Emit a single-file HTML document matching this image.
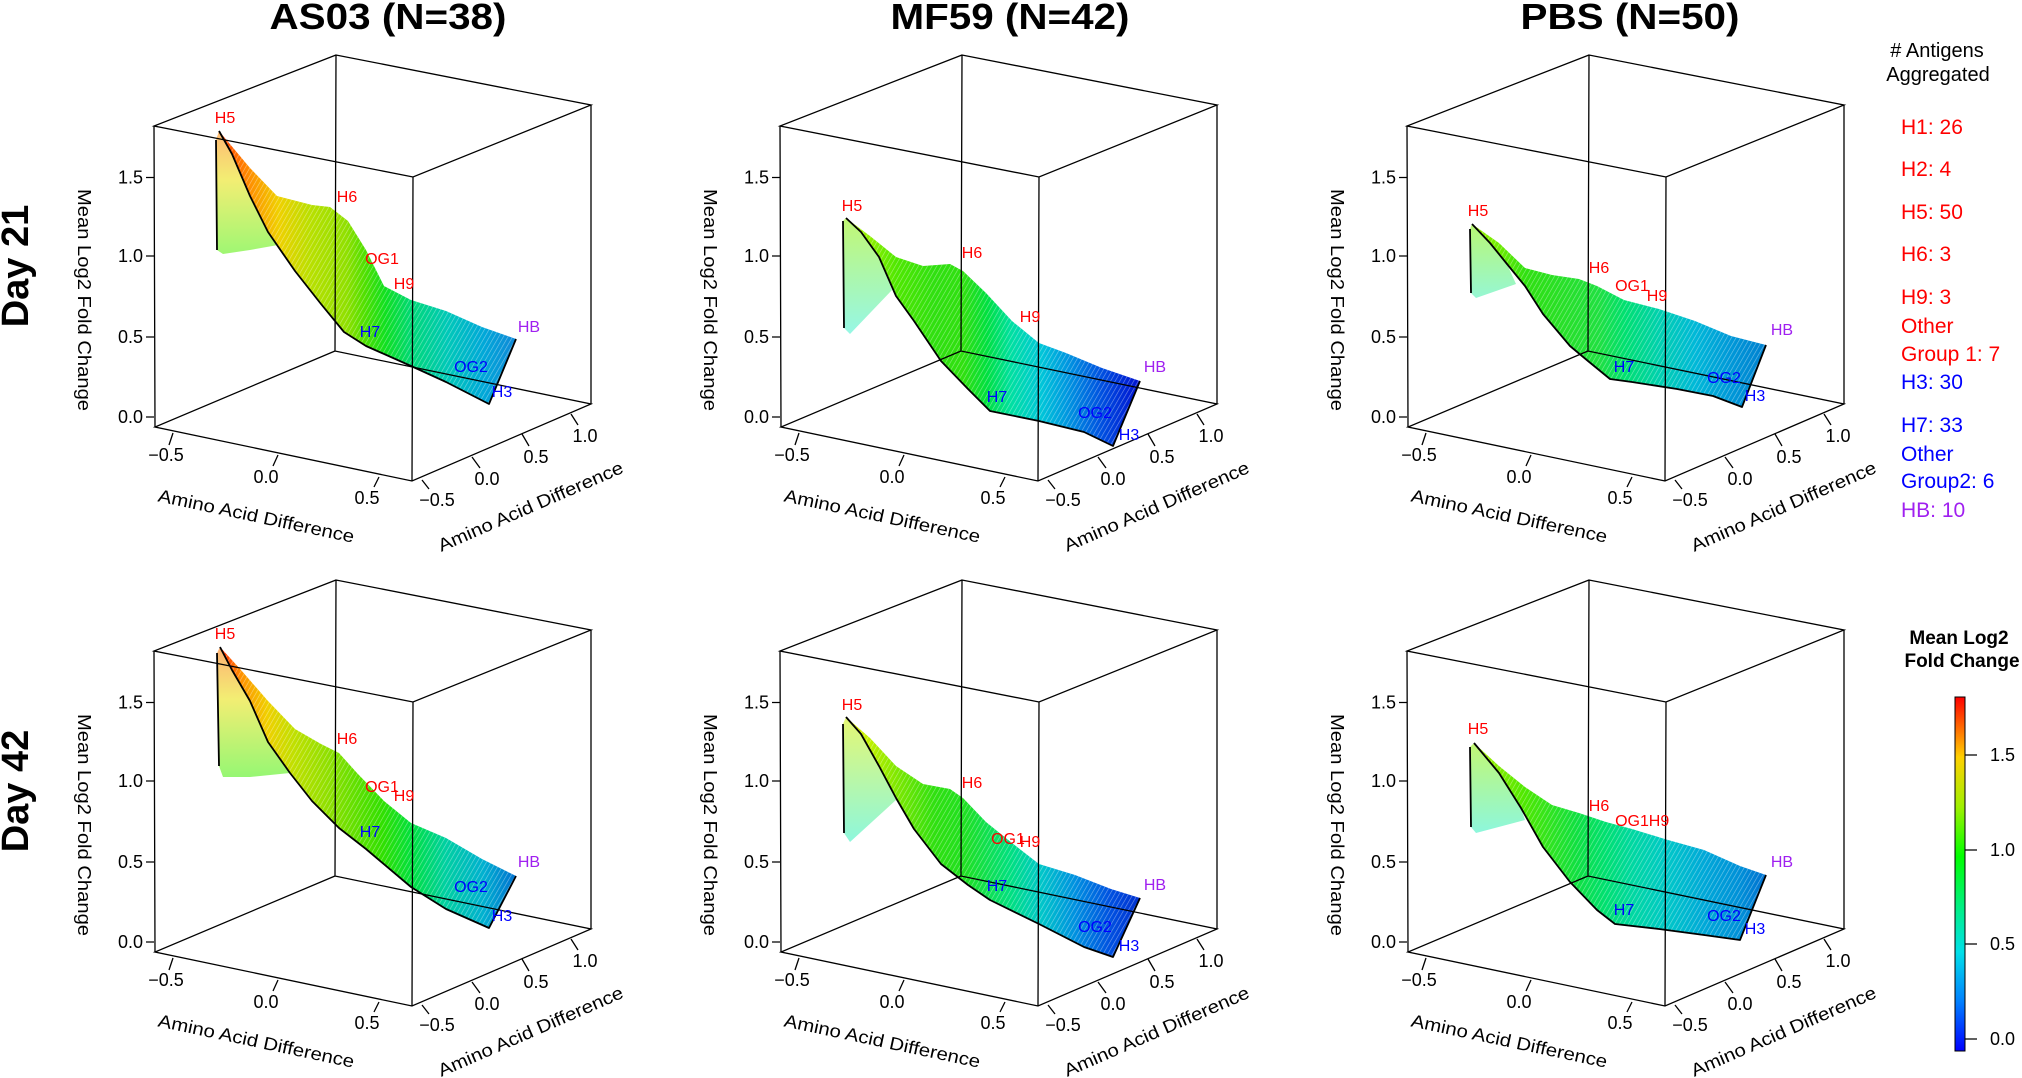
<!DOCTYPE html>
<html><head><meta charset="utf-8"><style>
html,body{margin:0;padding:0;background:#fff;}
svg{display:block;font-family:"Liberation Sans",Arial,sans-serif;}
</style></head><body>
<svg width="2022" height="1078" viewBox="0 0 2022 1078" xmlns="http://www.w3.org/2000/svg">
<defs>
<pattern id="mesh" width="4" height="4" patternUnits="userSpaceOnUse" patternTransform="rotate(30)"><line x1="0" y1="0" x2="0" y2="4" stroke="#fff" stroke-width="1.2" opacity="0.45"/></pattern>
<pattern id="hatch" width="7" height="7" patternUnits="userSpaceOnUse" patternTransform="rotate(45)"><rect width="7" height="7" fill="#fff" opacity="0.55"/><line x1="0" y1="0" x2="7" y2="0" stroke="#fff" stroke-width="0"/></pattern>
<linearGradient id="g1" gradientUnits="userSpaceOnUse" x1="219" y1="0" x2="516" y2="0">
<stop offset="0" stop-color="#ff3a00"/><stop offset=".10" stop-color="#ff8c00"/><stop offset=".2" stop-color="#f0d000"/><stop offset=".31" stop-color="#b8e000"/><stop offset=".43" stop-color="#90e000"/><stop offset=".49" stop-color="#50e000"/><stop offset=".56" stop-color="#10e020"/><stop offset=".65" stop-color="#00d878"/><stop offset=".77" stop-color="#00c8b8"/><stop offset=".89" stop-color="#00a8d8"/><stop offset="1" stop-color="#1088d8"/></linearGradient>
<linearGradient id="f1" x1="0" y1="0" x2="0" y2="1"><stop offset="0" stop-color="#ff8000"/><stop offset=".4" stop-color="#e8e000"/><stop offset="1" stop-color="#50f000"/></linearGradient>
<linearGradient id="g2" gradientUnits="userSpaceOnUse" x1="846" y1="0" x2="1140" y2="0">
<stop offset="0" stop-color="#b0f000"/><stop offset=".08" stop-color="#90f000"/><stop offset=".17" stop-color="#50e800"/><stop offset=".3" stop-color="#30e010"/><stop offset=".4" stop-color="#30e010"/><stop offset=".48" stop-color="#00e040"/><stop offset=".56" stop-color="#00e0a0"/><stop offset=".66" stop-color="#00c8d8"/><stop offset=".75" stop-color="#0098e0"/><stop offset=".87" stop-color="#0050e0"/><stop offset="1" stop-color="#0010d0"/></linearGradient>
<linearGradient id="f2" x1="0" y1="0" x2="0" y2="1"><stop offset="0" stop-color="#90f000"/><stop offset="1" stop-color="#40f0d0"/></linearGradient>
<linearGradient id="g3" gradientUnits="userSpaceOnUse" x1="1472" y1="0" x2="1766" y2="0">
<stop offset="0" stop-color="#a0f000"/><stop offset=".09" stop-color="#70ec00"/><stop offset=".18" stop-color="#30e010"/><stop offset=".43" stop-color="#20e040"/><stop offset=".52" stop-color="#00e070"/><stop offset=".64" stop-color="#00d0b0"/><stop offset=".76" stop-color="#00b8d8"/><stop offset=".88" stop-color="#0098d8"/><stop offset="1" stop-color="#0080d0"/></linearGradient>
<linearGradient id="f3" x1="0" y1="0" x2="0" y2="1"><stop offset="0" stop-color="#80f000"/><stop offset="1" stop-color="#40f0b0"/></linearGradient>
<linearGradient id="g4" gradientUnits="userSpaceOnUse" x1="220" y1="0" x2="516" y2="0">
<stop offset="0" stop-color="#ff2000"/><stop offset=".07" stop-color="#ff9000"/><stop offset=".16" stop-color="#f0d000"/><stop offset=".25" stop-color="#c0e000"/><stop offset=".40" stop-color="#80e000"/><stop offset=".55" stop-color="#30e000"/><stop offset=".65" stop-color="#00e040"/><stop offset=".76" stop-color="#00d0a0"/><stop offset=".89" stop-color="#00b0d0"/><stop offset="1" stop-color="#0070d0"/></linearGradient>
<linearGradient id="f4" x1="0" y1="0" x2="0" y2="1"><stop offset="0" stop-color="#ff7000"/><stop offset=".4" stop-color="#e8e000"/><stop offset="1" stop-color="#40f000"/></linearGradient>
<linearGradient id="g5" gradientUnits="userSpaceOnUse" x1="846" y1="0" x2="1140" y2="0">
<stop offset="0" stop-color="#e8f000"/><stop offset=".08" stop-color="#c0f000"/><stop offset=".17" stop-color="#80e800"/><stop offset=".3" stop-color="#30e010"/><stop offset=".4" stop-color="#20e020"/><stop offset=".56" stop-color="#00e080"/><stop offset=".66" stop-color="#00c8c8"/><stop offset=".78" stop-color="#0090e0"/><stop offset=".9" stop-color="#0050e0"/><stop offset="1" stop-color="#0030d0"/></linearGradient>
<linearGradient id="f5" x1="0" y1="0" x2="0" y2="1"><stop offset="0" stop-color="#d0f000"/><stop offset="1" stop-color="#30f0c0"/></linearGradient>
<linearGradient id="g6" gradientUnits="userSpaceOnUse" x1="1474" y1="0" x2="1766" y2="0">
<stop offset="0" stop-color="#b0f000"/><stop offset=".17" stop-color="#50e800"/><stop offset=".35" stop-color="#10e040"/><stop offset=".45" stop-color="#00e070"/><stop offset=".54" stop-color="#00d8a0"/><stop offset=".66" stop-color="#00c8c8"/><stop offset=".79" stop-color="#00a8d8"/><stop offset=".91" stop-color="#0090d8"/><stop offset="1" stop-color="#0070d0"/></linearGradient>
<linearGradient id="f6" x1="0" y1="0" x2="0" y2="1"><stop offset="0" stop-color="#90f000"/><stop offset="1" stop-color="#30f0c0"/></linearGradient>
<linearGradient id="cb" x1="0" y1="1" x2="0" y2="0">
<stop offset="0" stop-color="#0000ff"/><stop offset=".14" stop-color="#0080ff"/><stop offset=".28" stop-color="#00e0e8"/><stop offset=".41" stop-color="#00f080"/><stop offset=".55" stop-color="#00ff00"/><stop offset=".69" stop-color="#a0f000"/><stop offset=".83" stop-color="#ffd000"/><stop offset="1" stop-color="#ff0000"/></linearGradient>
</defs>

<!-- Titles -->
<g font-weight="bold" font-size="36" text-anchor="middle">
<text x="388" y="29" textLength="237" lengthAdjust="spacingAndGlyphs">AS03 (N=38)</text>
<text x="1010" y="29" textLength="239" lengthAdjust="spacingAndGlyphs">MF59 (N=42)</text>
<text x="1630" y="29" textLength="219" lengthAdjust="spacingAndGlyphs">PBS (N=50)</text>
</g>
<g font-weight="bold" font-size="38" text-anchor="middle">
<text transform="translate(28,266) rotate(-90)">Day 21</text>
<text transform="translate(28,791) rotate(-90)">Day 42</text>
</g>

<!-- Surfaces -->
<g stroke="none">
<!-- AS03 D21 -->
<path d="M219,131 L216,140 217,250 223,254 250,250 278,245 268,232 250,196 232,154 Z" fill="url(#f1)" opacity="0.55"/>
<path d="M219,131 L250,168 277,196 312,205 330,207 348,221 366,250 384,286 411,300 446,311 482,327 516,339 L489,404 L446,382 411,366 366,346 344,332 321,304 295,271 268,232 250,196 232,154 Z" fill="url(#g1)"/>
<!-- MF59 D21 -->
<path d="M846,218 L843,221 844,328 850,334 892,290 879,257 861,232 Z" fill="url(#f2)" opacity="0.55"/>
<path d="M846,218 L870,236 896,257 923,266 950,264 963,271 986,293 1012,321 1039,343 1066,353 1102,368 1140,381 L1113,446 1084,432 1039,421 990,411 968,389 941,361 914,321 896,296 879,257 861,232 Z" fill="url(#g2)"/>
<!-- PBS D21 -->
<path d="M1472,224 L1470,229 1471,293 1476,298 1516,284 1507,264 1490,243 Z" fill="url(#f3)" opacity="0.55"/>
<path d="M1472,224 L1499,243 1525,268 1552,275 1579,279 1597,286 1624,300 1659,309 1695,321 1731,336 1766,345 L1742,407 1713,396 1677,389 1632,382 1610,379 1588,361 1570,346 1543,314 1525,286 1507,264 1490,243 Z" fill="url(#g3)"/>
<!-- AS03 D42 -->
<path d="M220,647 L217,653 219,766 223,777 250,777 290,773 268,742 250,701 232,670 Z" fill="url(#f4)" opacity="0.55"/>
<path d="M220,647 L241,670 268,701 295,729 321,744 339,753 357,773 384,801 411,823 446,838 482,859 516,876 L489,928 446,909 411,887 366,849 339,828 312,801 290,773 268,742 250,701 232,670 Z" fill="url(#g4)"/>
<!-- MF59 D42 -->
<path d="M846,717 L843,724 844,833 850,842 896,800 879,766 861,734 Z" fill="url(#f5)" opacity="0.55"/>
<path d="M846,717 L870,738 896,766 923,784 950,789 963,798 986,822 1012,843 1039,864 1075,875 1111,889 1140,898 L1113,957 1084,947 1039,924 990,900 968,885 941,864 914,829 896,798 879,766 861,734 Z" fill="url(#g5)"/>
<!-- PBS D42 -->
<path d="M1474,743 L1470,747 1471,827 1476,833 1525,820 1521,808 1499,773 Z" fill="url(#f6)" opacity="0.55"/>
<path d="M1474,743 L1499,766 1525,787 1552,805 1579,813 1606,822 1632,829 1668,840 1704,850 1740,866 1766,875 L1740,940 1704,935 1659,929 1615,924 1597,910 1570,882 1543,847 1521,808 1499,773 Z" fill="url(#g6)"/>
</g>
<!-- mesh overlay -->
<g fill="url(#mesh)">
<path d="M219,131 L250,168 277,196 312,205 330,207 348,221 366,250 384,286 411,300 446,311 482,327 516,339 L489,404 L446,382 411,366 366,346 344,332 321,304 295,271 268,232 250,196 232,154 Z"/>
<path d="M846,218 L870,236 896,257 923,266 950,264 963,271 986,293 1012,321 1039,343 1066,353 1102,368 1140,381 L1113,446 1084,432 1039,421 990,411 968,389 941,361 914,321 896,296 879,257 861,232 Z"/>
<path d="M1472,224 L1499,243 1525,268 1552,275 1579,279 1597,286 1624,300 1659,309 1695,321 1731,336 1766,345 L1742,407 1713,396 1677,389 1632,382 1610,379 1588,361 1570,346 1543,314 1525,286 1507,264 1490,243 Z"/>
<path d="M220,647 L241,670 268,701 295,729 321,744 339,753 357,773 384,801 411,823 446,838 482,859 516,876 L489,928 446,909 411,887 366,849 339,828 312,801 290,773 268,742 250,701 232,670 Z"/>
<path d="M846,717 L870,738 896,766 923,784 950,789 963,798 986,822 1012,843 1039,864 1075,875 1111,889 1140,898 L1113,957 1084,947 1039,924 990,900 968,885 941,864 914,829 896,798 879,766 861,734 Z"/>
<path d="M1474,743 L1499,766 1525,787 1552,805 1579,813 1606,822 1632,829 1668,840 1704,850 1740,866 1766,875 L1740,940 1704,935 1659,929 1615,924 1597,910 1570,882 1543,847 1521,808 1499,773 Z"/>
</g>
<!-- black edges -->
<g fill="none" stroke="#000" stroke-width="1.8" stroke-linejoin="round">
<path d="M216,140 L217,250 M219,131 L232,154 250,196 268,232 295,271 321,304 344,332 366,346 411,366 446,382 489,404 L516,339"/>
<path d="M843,221 L844,328 M846,218 L861,232 879,257 896,296 914,321 941,361 968,389 990,411 1039,421 1084,432 1113,446 L1140,381"/>
<path d="M1470,229 L1471,293 M1472,224 L1490,243 1507,264 1525,286 1543,314 1570,346 1588,361 1610,379 1632,382 1677,389 1713,396 1742,407 L1766,345"/>
<path d="M217,653 L219,766 M220,647 L232,670 250,701 268,742 290,773 312,801 339,828 366,849 411,887 446,909 489,928 L516,876"/>
<path d="M843,724 L844,833 M846,717 L861,734 879,766 896,798 914,829 941,864 968,885 990,900 1039,924 1084,947 1113,957 L1140,898"/>
<path d="M1470,747 L1471,827 M1474,743 L1499,773 1521,808 1543,847 1570,882 1597,910 1615,924 1659,929 1704,935 1740,940 L1766,875"/>
</g>

<!-- Boxes and axes, replicated per panel -->
<g id="p1">
<g fill="none" stroke="#000" stroke-width="1.3">
<path d="M336,55 L154,126 L413,177 L591,105 Z M335,351 L155,427 L412,481 L591,404 Z M336,55 L335,351 M154,126 L155,427 M413,177 L412,481 M591,105 L591,404"/>
<path d="M146,417 H154 M146,337 H154 M146,256 H154 M146,177.5 H154"/>
<path d="M173,433 L169,445 M278,455 L273,466 M379,477 L374,487 M422,480 L429,489 M472,457 L480,468 M522,434 L529,446 M571,414 L578,425"/>
</g>
<g font-size="18" fill="#000">
<g text-anchor="end"><text x="143" y="423">0.0</text><text x="143" y="343">0.5</text><text x="143" y="262">1.0</text><text x="143" y="183.5">1.5</text></g>
<g text-anchor="middle"><text x="166" y="461">−0.5</text><text x="266" y="483">0.0</text><text x="367" y="504">0.5</text>
<text x="437" y="506">−0.5</text><text x="487" y="485">0.0</text><text x="536" y="463">0.5</text><text x="585" y="442">1.0</text></g>
<text transform="translate(255,522) rotate(12)" text-anchor="middle" textLength="200" lengthAdjust="spacingAndGlyphs">Amino Acid Difference</text>
<text transform="translate(533,512) rotate(-23.5)" text-anchor="middle" textLength="200" lengthAdjust="spacingAndGlyphs">Amino Acid Difference</text>
<text transform="translate(78,300) rotate(90)" text-anchor="middle" textLength="222" lengthAdjust="spacingAndGlyphs">Mean Log2 Fold Change</text>
</g>
</g>
<g transform="translate(626,0)">
<g fill="none" stroke="#000" stroke-width="1.3">
<path d="M336,55 L154,126 L413,177 L591,105 Z M335,351 L155,427 L412,481 L591,404 Z M336,55 L335,351 M154,126 L155,427 M413,177 L412,481 M591,105 L591,404"/>
<path d="M146,417 H154 M146,337 H154 M146,256 H154 M146,177.5 H154"/>
<path d="M173,433 L169,445 M278,455 L273,466 M379,477 L374,487 M422,480 L429,489 M472,457 L480,468 M522,434 L529,446 M571,414 L578,425"/>
</g>
<g font-size="18" fill="#000">
<g text-anchor="end"><text x="143" y="423">0.0</text><text x="143" y="343">0.5</text><text x="143" y="262">1.0</text><text x="143" y="183.5">1.5</text></g>
<g text-anchor="middle"><text x="166" y="461">−0.5</text><text x="266" y="483">0.0</text><text x="367" y="504">0.5</text>
<text x="437" y="506">−0.5</text><text x="487" y="485">0.0</text><text x="536" y="463">0.5</text><text x="585" y="442">1.0</text></g>
<text transform="translate(255,522) rotate(12)" text-anchor="middle" textLength="200" lengthAdjust="spacingAndGlyphs">Amino Acid Difference</text>
<text transform="translate(533,512) rotate(-23.5)" text-anchor="middle" textLength="200" lengthAdjust="spacingAndGlyphs">Amino Acid Difference</text>
<text transform="translate(78,300) rotate(90)" text-anchor="middle" textLength="222" lengthAdjust="spacingAndGlyphs">Mean Log2 Fold Change</text>
</g>
</g>
<g transform="translate(1253,0)">
<g fill="none" stroke="#000" stroke-width="1.3">
<path d="M336,55 L154,126 L413,177 L591,105 Z M335,351 L155,427 L412,481 L591,404 Z M336,55 L335,351 M154,126 L155,427 M413,177 L412,481 M591,105 L591,404"/>
<path d="M146,417 H154 M146,337 H154 M146,256 H154 M146,177.5 H154"/>
<path d="M173,433 L169,445 M278,455 L273,466 M379,477 L374,487 M422,480 L429,489 M472,457 L480,468 M522,434 L529,446 M571,414 L578,425"/>
</g>
<g font-size="18" fill="#000">
<g text-anchor="end"><text x="143" y="423">0.0</text><text x="143" y="343">0.5</text><text x="143" y="262">1.0</text><text x="143" y="183.5">1.5</text></g>
<g text-anchor="middle"><text x="166" y="461">−0.5</text><text x="266" y="483">0.0</text><text x="367" y="504">0.5</text>
<text x="437" y="506">−0.5</text><text x="487" y="485">0.0</text><text x="536" y="463">0.5</text><text x="585" y="442">1.0</text></g>
<text transform="translate(255,522) rotate(12)" text-anchor="middle" textLength="200" lengthAdjust="spacingAndGlyphs">Amino Acid Difference</text>
<text transform="translate(533,512) rotate(-23.5)" text-anchor="middle" textLength="200" lengthAdjust="spacingAndGlyphs">Amino Acid Difference</text>
<text transform="translate(78,300) rotate(90)" text-anchor="middle" textLength="222" lengthAdjust="spacingAndGlyphs">Mean Log2 Fold Change</text>
</g>
</g>
<g transform="translate(0,525)">
<g fill="none" stroke="#000" stroke-width="1.3">
<path d="M336,55 L154,126 L413,177 L591,105 Z M335,351 L155,427 L412,481 L591,404 Z M336,55 L335,351 M154,126 L155,427 M413,177 L412,481 M591,105 L591,404"/>
<path d="M146,417 H154 M146,337 H154 M146,256 H154 M146,177.5 H154"/>
<path d="M173,433 L169,445 M278,455 L273,466 M379,477 L374,487 M422,480 L429,489 M472,457 L480,468 M522,434 L529,446 M571,414 L578,425"/>
</g>
<g font-size="18" fill="#000">
<g text-anchor="end"><text x="143" y="423">0.0</text><text x="143" y="343">0.5</text><text x="143" y="262">1.0</text><text x="143" y="183.5">1.5</text></g>
<g text-anchor="middle"><text x="166" y="461">−0.5</text><text x="266" y="483">0.0</text><text x="367" y="504">0.5</text>
<text x="437" y="506">−0.5</text><text x="487" y="485">0.0</text><text x="536" y="463">0.5</text><text x="585" y="442">1.0</text></g>
<text transform="translate(255,522) rotate(12)" text-anchor="middle" textLength="200" lengthAdjust="spacingAndGlyphs">Amino Acid Difference</text>
<text transform="translate(533,512) rotate(-23.5)" text-anchor="middle" textLength="200" lengthAdjust="spacingAndGlyphs">Amino Acid Difference</text>
<text transform="translate(78,300) rotate(90)" text-anchor="middle" textLength="222" lengthAdjust="spacingAndGlyphs">Mean Log2 Fold Change</text>
</g>
</g>
<g transform="translate(626,525)">
<g fill="none" stroke="#000" stroke-width="1.3">
<path d="M336,55 L154,126 L413,177 L591,105 Z M335,351 L155,427 L412,481 L591,404 Z M336,55 L335,351 M154,126 L155,427 M413,177 L412,481 M591,105 L591,404"/>
<path d="M146,417 H154 M146,337 H154 M146,256 H154 M146,177.5 H154"/>
<path d="M173,433 L169,445 M278,455 L273,466 M379,477 L374,487 M422,480 L429,489 M472,457 L480,468 M522,434 L529,446 M571,414 L578,425"/>
</g>
<g font-size="18" fill="#000">
<g text-anchor="end"><text x="143" y="423">0.0</text><text x="143" y="343">0.5</text><text x="143" y="262">1.0</text><text x="143" y="183.5">1.5</text></g>
<g text-anchor="middle"><text x="166" y="461">−0.5</text><text x="266" y="483">0.0</text><text x="367" y="504">0.5</text>
<text x="437" y="506">−0.5</text><text x="487" y="485">0.0</text><text x="536" y="463">0.5</text><text x="585" y="442">1.0</text></g>
<text transform="translate(255,522) rotate(12)" text-anchor="middle" textLength="200" lengthAdjust="spacingAndGlyphs">Amino Acid Difference</text>
<text transform="translate(533,512) rotate(-23.5)" text-anchor="middle" textLength="200" lengthAdjust="spacingAndGlyphs">Amino Acid Difference</text>
<text transform="translate(78,300) rotate(90)" text-anchor="middle" textLength="222" lengthAdjust="spacingAndGlyphs">Mean Log2 Fold Change</text>
</g>
</g>
<g transform="translate(1253,525)">
<g fill="none" stroke="#000" stroke-width="1.3">
<path d="M336,55 L154,126 L413,177 L591,105 Z M335,351 L155,427 L412,481 L591,404 Z M336,55 L335,351 M154,126 L155,427 M413,177 L412,481 M591,105 L591,404"/>
<path d="M146,417 H154 M146,337 H154 M146,256 H154 M146,177.5 H154"/>
<path d="M173,433 L169,445 M278,455 L273,466 M379,477 L374,487 M422,480 L429,489 M472,457 L480,468 M522,434 L529,446 M571,414 L578,425"/>
</g>
<g font-size="18" fill="#000">
<g text-anchor="end"><text x="143" y="423">0.0</text><text x="143" y="343">0.5</text><text x="143" y="262">1.0</text><text x="143" y="183.5">1.5</text></g>
<g text-anchor="middle"><text x="166" y="461">−0.5</text><text x="266" y="483">0.0</text><text x="367" y="504">0.5</text>
<text x="437" y="506">−0.5</text><text x="487" y="485">0.0</text><text x="536" y="463">0.5</text><text x="585" y="442">1.0</text></g>
<text transform="translate(255,522) rotate(12)" text-anchor="middle" textLength="200" lengthAdjust="spacingAndGlyphs">Amino Acid Difference</text>
<text transform="translate(533,512) rotate(-23.5)" text-anchor="middle" textLength="200" lengthAdjust="spacingAndGlyphs">Amino Acid Difference</text>
<text transform="translate(78,300) rotate(90)" text-anchor="middle" textLength="222" lengthAdjust="spacingAndGlyphs">Mean Log2 Fold Change</text>
</g>
</g>

<!-- Point labels -->
<g font-size="16" text-anchor="middle">
<g fill="#ff0000"><text x="225" y="123">H5</text><text x="347" y="202">H6</text><text x="382" y="264">OG1</text><text x="404" y="289">H9</text></g>
<g fill="#0000ff"><text x="370" y="337">H7</text><text x="471" y="372">OG2</text><text x="502" y="397">H3</text></g>
<text x="529" y="332" fill="#a020f0">HB</text>

<g fill="#ff0000"><text x="852" y="211">H5</text><text x="972" y="258">H6</text><text x="1030" y="322">H9</text></g>
<g fill="#0000ff"><text x="997" y="402">H7</text><text x="1095" y="418">OG2</text><text x="1129" y="440">H3</text></g>
<text x="1155" y="372" fill="#a020f0">HB</text>

<g fill="#ff0000"><text x="1478" y="216">H5</text><text x="1599" y="273">H6</text><text x="1632" y="291">OG1</text><text x="1657" y="301">H9</text></g>
<g fill="#0000ff"><text x="1624" y="372">H7</text><text x="1724" y="383">OG2</text><text x="1755" y="401">H3</text></g>
<text x="1782" y="335" fill="#a020f0">HB</text>

<g fill="#ff0000"><text x="225" y="639">H5</text><text x="347" y="744">H6</text><text x="382" y="792">OG1</text><text x="404" y="801">H9</text></g>
<g fill="#0000ff"><text x="370" y="837">H7</text><text x="471" y="892">OG2</text><text x="502" y="921">H3</text></g>
<text x="529" y="867" fill="#a020f0">HB</text>

<g fill="#ff0000"><text x="852" y="710">H5</text><text x="972" y="788">H6</text><text x="1008" y="844">OG1</text><text x="1030" y="847">H9</text></g>
<g fill="#0000ff"><text x="997" y="891">H7</text><text x="1095" y="932">OG2</text><text x="1129" y="951">H3</text></g>
<text x="1155" y="890" fill="#a020f0">HB</text>

<g fill="#ff0000"><text x="1478" y="734">H5</text><text x="1599" y="811">H6</text><text x="1632" y="826">OG1</text><text x="1659" y="826">H9</text></g>
<g fill="#0000ff"><text x="1624" y="915">H7</text><text x="1724" y="921">OG2</text><text x="1755" y="934">H3</text></g>
<text x="1782" y="867" fill="#a020f0">HB</text>
</g>

<!-- Legend -->
<g font-size="20" text-anchor="middle" fill="#000">
<text x="1937" y="57"># Antigens</text>
<text x="1938" y="81">Aggregated</text>
</g>
<g font-size="21">
<g fill="#ff0000"><text x="1901" y="134">H1: 26</text><text x="1901" y="176">H2: 4</text><text x="1901" y="219">H5: 50</text><text x="1901" y="261">H6: 3</text><text x="1901" y="304">H9: 3</text><text x="1901" y="333">Other</text><text x="1901" y="361">Group 1: 7</text></g>
<g fill="#0000ff"><text x="1901" y="389">H3: 30</text><text x="1901" y="432">H7: 33</text><text x="1901" y="461">Other</text><text x="1901" y="488">Group2: 6</text></g>
<text x="1901" y="517" fill="#a020f0">HB: 10</text>
</g>

<!-- Colorbar -->
<g font-size="19" font-weight="bold" text-anchor="middle">
<text x="1959" y="644">Mean Log2</text>
<text x="1962" y="667">Fold Change</text>
</g>
<rect x="1955" y="697" width="10" height="354" fill="url(#cb)" stroke="#000" stroke-width="1"/>
<path d="M1965,755 H1977 M1965,850 H1977 M1965,944 H1977 M1965,1039 H1977" stroke="#000" stroke-width="1.2"/>
<g font-size="18"><text x="1990" y="761">1.5</text><text x="1990" y="856">1.0</text><text x="1990" y="950">0.5</text><text x="1990" y="1045">0.0</text></g>
</svg>
</body></html>
